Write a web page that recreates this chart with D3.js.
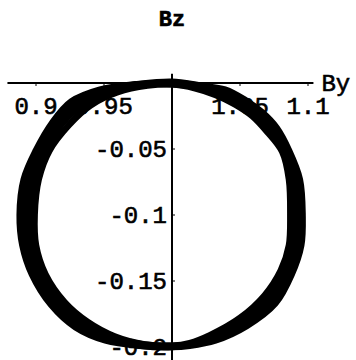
<!DOCTYPE html>
<html>
<head>
<meta charset="utf-8">
<script src="https://cdn.jsdelivr.net/npm/d3@7/dist/d3.min.js"></script>
<style>
  html, body { margin: 0; padding: 0; background: #fff; }
  svg { display: block; }
  text { font-family: "Liberation Mono", "Courier New", monospace; fill: #000; stroke: #000; stroke-width: 0.6px; }
</style>
</head>
<body>
<svg id="chart" width="356" height="360"></svg>
<script>
// Field-vector trajectory (By, Bz): several nearly coincident orbits
const orbitA = [
  [1.000, 0.001], [1.021, -0.002], [1.039, -0.005], [1.054, -0.013], [1.066, -0.022],
  [1.077, -0.034], [1.086, -0.051], [1.094, -0.073], [1.096, -0.100], [1.095, -0.123],
  [1.088, -0.145], [1.076, -0.167], [1.055, -0.184], [1.032, -0.195], [1.013, -0.199],
  [1.000, -0.200], [0.976, -0.199], [0.951, -0.195], [0.929, -0.185], [0.911, -0.168],
  [0.897, -0.145], [0.890, -0.123], [0.888, -0.100], [0.891, -0.073], [0.900, -0.051],
  [0.912, -0.030], [0.926, -0.014], [0.947, -0.005], [0.973, -0.001]
];
const orbitB = [
  [1.000, 0.000], [1.020, -0.002], [1.037, -0.006], [1.052, -0.014], [1.064, -0.023],
  [1.075, -0.035], [1.084, -0.051], [1.091, -0.073], [1.093, -0.100], [1.092, -0.123],
  [1.086, -0.144], [1.074, -0.165], [1.054, -0.182], [1.031, -0.194], [1.013, -0.198],
  [1.000, -0.200], [0.977, -0.199], [0.953, -0.194], [0.931, -0.184], [0.913, -0.167],
  [0.900, -0.145], [0.893, -0.123], [0.892, -0.100], [0.895, -0.073], [0.903, -0.051],
  [0.915, -0.031], [0.931, -0.015], [0.951, -0.006], [0.976, -0.001]
];
const orbitC = [
  [1.000, -0.001], [1.018, -0.003], [1.034, -0.008], [1.049, -0.015], [1.061, -0.024],
  [1.072, -0.036], [1.082, -0.052], [1.088, -0.073], [1.090, -0.100], [1.089, -0.123],
  [1.083, -0.143], [1.071, -0.163], [1.052, -0.180], [1.029, -0.192], [1.013, -0.198],
  [1.000, -0.199], [0.979, -0.198], [0.956, -0.193], [0.935, -0.182], [0.917, -0.167],
  [0.904, -0.145], [0.897, -0.123], [0.896, -0.100], [0.899, -0.073], [0.907, -0.051],
  [0.919, -0.031], [0.935, -0.016], [0.956, -0.006], [0.979, -0.001]
];
const orbitD = [
  [1.000, -0.001], [1.017, -0.004], [1.032, -0.009], [1.046, -0.016], [1.059, -0.025],
  [1.070, -0.037], [1.081, -0.052], [1.086, -0.073], [1.087, -0.100], [1.086, -0.123],
  [1.080, -0.142], [1.068, -0.161], [1.050, -0.178], [1.028, -0.191], [1.013, -0.197],
  [1.000, -0.199], [0.980, -0.198], [0.958, -0.192], [0.938, -0.181], [0.921, -0.166],
  [0.907, -0.145], [0.900, -0.123], [0.899, -0.100], [0.902, -0.073], [0.910, -0.051],
  [0.924, -0.032], [0.940, -0.017], [0.960, -0.007], [0.982, -0.002]
];
const orbits = [orbitA, orbitB, orbitC, orbitD];

// Axis ticks and labels
const byTicks = [0.9, 0.95, 1.05, 1.1];
const byTickLabels = ["0.9", "0.95", "1.05", "1.1"];
const bzTicks = [-0.05, -0.1, -0.15, -0.2];
const bzTickLabels = ["-0.05", "-0.1", "-0.15", "-0.2"];
const titleText = "Bz";
const byAxisLabel = "By";

const svg = d3.select("#chart");

const x = d3.scaleLinear().domain([0.9, 1.1]).range([36, 308]);
const y = d3.scaleLinear().domain([0, -0.2]).range([83, 347]);

// axes cross at (1, 0)
const x0 = x(1), y0 = y(0);

svg.append("line")
  .attr("x1", x(0.879)).attr("x2", x(1.104))
  .attr("y1", y0).attr("y2", y0)
  .attr("stroke", "#000").attr("stroke-width", 2);

svg.append("line")
  .attr("x1", x0).attr("x2", x0)
  .attr("y1", y(0.007)).attr("y2", y(-0.21))
  .attr("stroke", "#000").attr("stroke-width", 2);

// small tick marks
svg.append("g").selectAll("line").data(byTicks).join("line")
  .attr("x1", d => x(d)).attr("x2", d => x(d))
  .attr("y1", y0).attr("y2", y0 + 3)
  .attr("stroke", "#000").attr("stroke-width", 1);
svg.append("g").selectAll("line").data(bzTicks).join("line")
  .attr("x1", x0).attr("x2", x0 + 3)
  .attr("y1", d => y(d)).attr("y2", d => y(d))
  .attr("stroke", "#000").attr("stroke-width", 1);

// tick labels
svg.append("g").selectAll("text").data(byTicks).join("text")
  .attr("x", d => x(d)).attr("y", y0 + 31)
  .attr("text-anchor", "middle")
  .style("font-size", "24px")
  .text((d, i) => byTickLabels[i]);

svg.append("g").selectAll("text").data(bzTicks).join("text")
  .attr("x", x0 - 5).attr("y", d => y(d) + 8)
  .attr("text-anchor", "end")
  .style("font-size", "24px")
  .text((d, i) => bzTickLabels[i]);

// trajectory
const line = d3.line()
  .x(d => x(d[0])).y(d => y(d[1]))
  .curve(d3.curveCatmullRomClosed);

svg.append("g").selectAll("path").data(orbits).join("path")
  .attr("d", line)
  .attr("fill", "none")
  .attr("stroke", "#000")
  .attr("stroke-width", 6.5);

// axis name and title
svg.append("text")
  .attr("x", x(1.104) + 8).attr("y", y0 + 8)
  .style("font-size", "24px")
  .text(byAxisLabel);

svg.append("text")
  .attr("x", x0).attr("y", 26)
  .attr("text-anchor", "middle")
  .style("font-size", "22px")
  .style("font-weight", "bold")
  .text(titleText);
</script>
</body>
</html>
